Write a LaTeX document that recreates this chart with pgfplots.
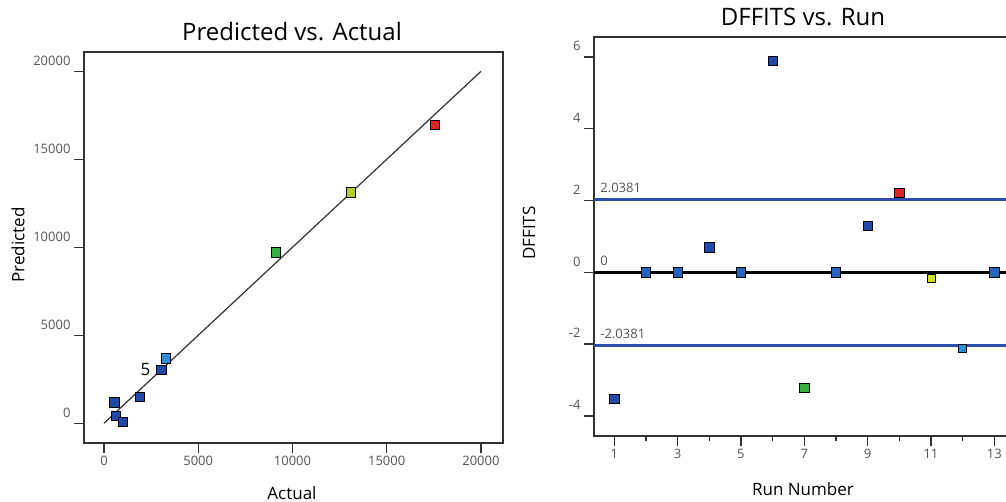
\documentclass[border=0pt]{standalone}
\usepackage{pgfplots}
\pgfplotsset{compat=1.18}
\usepackage{fontspec}
\setmainfont{Open Sans}
\definecolor{dblue}{HTML}{2148A8}
\definecolor{lblue}{HTML}{2B8FDB}
\definecolor{mgreen}{HTML}{33B040}
\definecolor{myellow}{HTML}{B4CC22}
\definecolor{mred}{HTML}{E02424}
\definecolor{thr}{HTML}{2B4FAE}
\definecolor{fr}{HTML}{333333}
\definecolor{tk}{HTML}{555555}
\begin{document}
\begin{tikzpicture}
\useasboundingbox (0pt,0pt) rectangle (1006pt,502pt);
\pgfplotsset{
  every axis/.append style={
    scale only axis,
    axis line style={fr, line width=1.6pt},
    tick align=outside,
    xtick pos=bottom, ytick pos=left,
    major tick length=10pt, minor tick length=5pt,
    every tick/.style={fr, line width=1.4pt},
    tick label style={font=\fontsize{13}{14}\selectfont, text=tk},
    /pgf/number format/assume math mode=true,
    /pgf/number format/1000 sep={},
    scaled ticks=false,
    clip=false,
  },
  sq/.style={only marks, mark=square*, mark size=4.6pt, mark options={draw=black, line width=0.7pt}},
}
% Left: Predicted vs Actual
\begin{axis}[
  at={(84pt,59pt)}, anchor=south west,
  width=419pt, height=391pt,
  xmin=-1060, xmax=21170, ymin=-1120, ymax=21100,
  xtick={0,5000,10000,15000,20000},
  ytick={0,5000,10000,15000,20000},
  yticklabel style={yshift=10pt},
]
\addplot[fr, line width=1.2pt] coordinates {(0,0) (20000,20000)};
\addplot[sq, fill=dblue] coordinates {(3040,3030) (1890,1510) (550,1190) (650,410) (990,90)};
\addplot[sq, fill=lblue] coordinates {(3270,3690)};
\addplot[sq, fill=mgreen] coordinates {(9100,9710)};
\addplot[sq, fill=myellow] coordinates {(13100,13120)};
\addplot[sq, fill=mred] coordinates {(17560,16950)};
\node[font=\fontsize{17}{19}\selectfont, anchor=east] at (axis cs:2650,3030) {5};
\end{axis}
% Right: DFFITS vs Run
\begin{axis}[
  at={(594pt,66pt)}, anchor=south west,
  width=428.8pt, height=399pt,
  xmin=0.36, xmax=13.9, ymin=-4.557, ymax=6.557,
  xtick={1,3,5,7,9,11,13},
  minor xtick={2,4,6,8,10,12},
  ytick={-4,-2,0,2,4,6},
  yticklabel style={yshift=11pt},
]
\addplot[thr, line width=2.6pt] coordinates {(0.36,2.0381) (13.9,2.0381)};
\addplot[thr, line width=2.6pt] coordinates {(0.36,-2.0381) (13.9,-2.0381)};
\addplot[black, line width=2.6pt] coordinates {(0.36,0) (13.9,0)};
\addplot[sq, fill=dblue] coordinates {(1,-3.53) (4,0.70) (6,5.89) (9,1.30)};
\addplot[sq, fill=dblue!60!lblue] coordinates {(2,0) (3,0) (5,0) (8,0) (13,0)};
\addplot[sq, fill=mgreen] coordinates {(7,-3.22)};
\addplot[sq, fill=mred] coordinates {(10,2.22)};
\addplot[sq, fill=myellow!60!yellow, mark size=4pt] coordinates {(11,-0.17)};
\addplot[sq, fill=lblue, mark size=4pt] coordinates {(12,-2.12)};
\node[font=\fontsize{13}{14}\selectfont, text=tk, anchor=base west] at (axis cs:0.45,2.0381) [yshift=7pt] {2.0381};
\node[font=\fontsize{13}{14}\selectfont, text=tk, anchor=base west] at (axis cs:0.45,0) [yshift=7pt] {0};
\node[font=\fontsize{13}{14}\selectfont, text=tk, anchor=base west] at (axis cs:0.45,-2.0381) [yshift=7pt] {-2.0381};
\end{axis}
% Titles and labels
\node[font=\fontsize{24}{26}\selectfont] at (292pt,470pt) {Predicted vs. Actual};
\node[font=\fontsize{24}{26}\selectfont] at (803pt,485pt) {DFFITS vs. Run};
\node[font=\fontsize{17}{19}\selectfont] at (292pt,9pt) {Actual};
\node[font=\fontsize{17}{19}\selectfont, rotate=90] at (18pt,257pt) {Predicted};
\node[font=\fontsize{17}{19}\selectfont] at (803pt,13pt) {Run Number};
\node[font=\fontsize{17}{19}\selectfont, rotate=90] at (529pt,269pt) {DFFITS};
\end{tikzpicture}
\end{document}
